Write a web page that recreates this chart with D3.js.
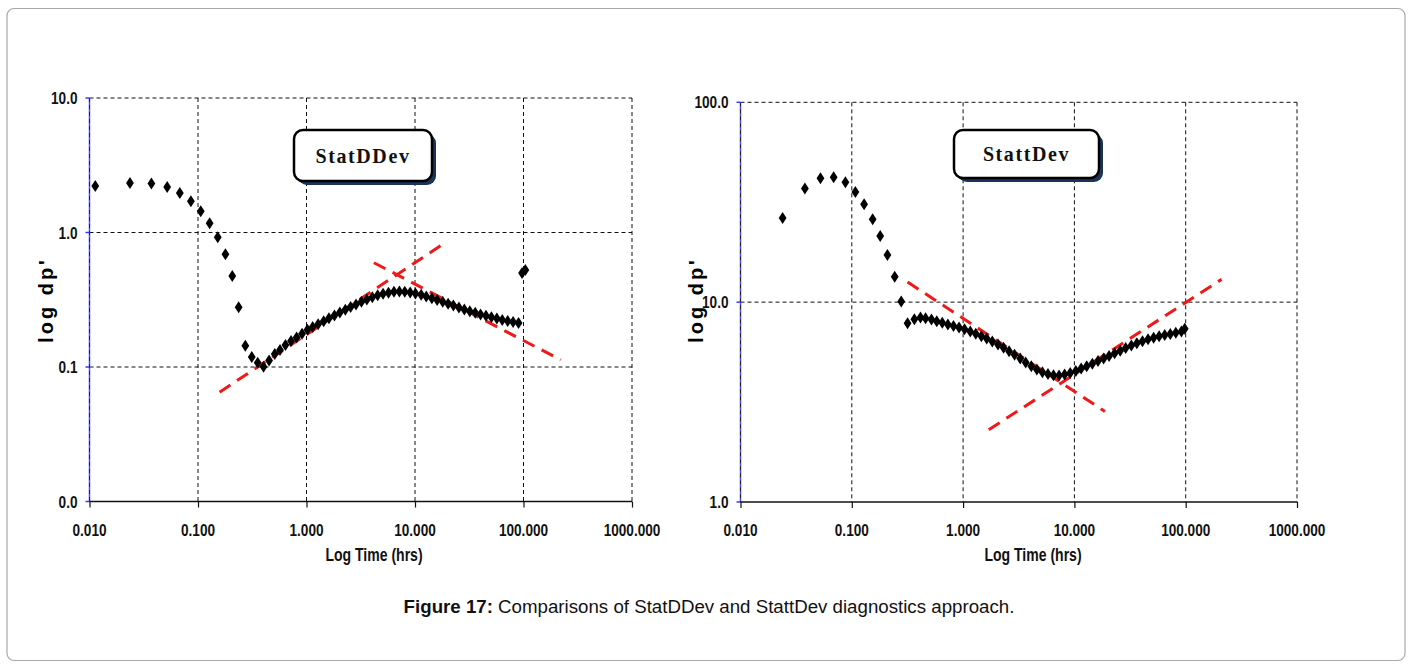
<!DOCTYPE html>
<html>
<head>
<meta charset="utf-8">
<script src="https://cdn.jsdelivr.net/npm/d3@7"></script>
<style>
  body { margin: 0; background: #fff; }
  .tick-label { font-family: "Liberation Sans", Arial, sans-serif; font-weight: bold; font-size: 17px; fill: #111; }
  .axis-title { font-family: "Liberation Sans", Arial, sans-serif; font-weight: bold; font-size: 18px; fill: #111; }
  .y-title { font-family: "Liberation Sans", Arial, sans-serif; font-weight: bold; font-size: 20px; letter-spacing: 3px; fill: #000; }
  .callout { font-family: "Liberation Serif", "Times New Roman", serif; font-weight: bold; font-size: 20px; letter-spacing: 1.6px; fill: #111; }
  .caption { font-family: "Liberation Sans", Arial, sans-serif; font-size: 18.7px; fill: #111; }
</style>
</head>
<body>
<div id="appContainer"></div>
<script>
// StatDDev (left panel)
const statdTime = [0.0113, 0.0236, 0.0372, 0.052, 0.068, 0.086, 0.106, 0.128, 0.152, 0.179, 0.207, 0.237, 0.273, 0.313, 0.355, 0.402, 0.452,
  0.51, 0.57, 0.64, 0.72, 0.81, 0.91, 1.02, 1.14, 1.28, 1.44, 1.61, 1.81, 2.03, 2.28, 2.55, 2.86, 3.21, 3.60, 4.04, 4.53,
  5.08, 5.70, 6.40, 7.18, 8.05, 9.03, 10.1, 11.4, 12.7, 14.3, 16.0, 18.0, 20.2, 22.6, 25.4, 28.5, 32.0, 35.9, 40.2, 45.1,
  50.6, 56.8, 63.7, 71.5, 80.2, 90.0, 97, 104];
const statdDp = [2.22, 2.33, 2.31, 2.18, 1.97, 1.71, 1.44, 1.17, 0.92, 0.69, 0.475, 0.278, 0.144, 0.1186, 0.1076, 0.1005, 0.112,
  0.125, 0.134, 0.146, 0.156, 0.166, 0.177, 0.189, 0.198, 0.208, 0.219, 0.230, 0.241, 0.254, 0.266, 0.279, 0.292, 0.305, 0.318, 0.330, 0.341,
  0.350, 0.357, 0.362, 0.364, 0.362, 0.358, 0.352, 0.344, 0.335, 0.325, 0.315, 0.305, 0.295, 0.286, 0.277, 0.268, 0.260, 0.253, 0.246, 0.240,
  0.234, 0.229, 0.224, 0.220, 0.216, 0.212, 0.50, 0.526];
const statdLines = [
  [[0.158, 0.065], [19.2, 0.845]],
  [[4.18, 0.596], [220, 0.113]]
];

// StattDev (right panel)
const stattTime = [0.0239, 0.0379, 0.0523, 0.0687, 0.0876, 0.1077, 0.129, 0.154, 0.180, 0.209, 0.243, 0.278, 0.317, 0.365, 0.414,
  0.46, 0.52, 0.58, 0.65, 0.73, 0.82, 0.92, 1.03, 1.16, 1.30, 1.46, 1.63, 1.83, 2.06, 2.31, 2.59, 2.90, 3.26, 3.65, 4.10,
  4.60, 5.16, 5.79, 6.49, 7.28, 8.17, 9.17, 10.3, 11.5, 12.9, 14.5, 16.3, 18.3, 20.5, 23.0, 25.8, 28.9, 32.5, 36.4, 40.9,
  45.9, 51.5, 57.7, 64.8, 72.7, 81.5, 91.5, 98.0];
const stattDp = [26.4, 37.0, 41.7, 42.2, 39.8, 35.6, 30.9, 26.0, 21.4, 17.2, 13.4, 10.07, 7.85, 8.22, 8.37,
  8.30, 8.18, 8.02, 7.88, 7.74, 7.60, 7.46, 7.32, 7.14, 6.95, 6.76, 6.57, 6.36, 6.14, 5.91, 5.68, 5.45, 5.22, 4.99, 4.78,
  4.60, 4.46, 4.37, 4.31, 4.30, 4.34, 4.42, 4.53, 4.65, 4.78, 4.92, 5.07, 5.22, 5.38, 5.55, 5.72, 5.90, 6.07, 6.23, 6.38,
  6.52, 6.64, 6.75, 6.84, 6.93, 7.02, 7.14, 7.35];
const stattLines = [
  [[0.317, 12.6], [18.8, 2.84]],
  [[1.70, 2.30], [210, 13.0]]
];

const xTicks = [0.01, 0.1, 1, 10, 100, 1000];
const xTickLabels = ["0.010", "0.100", "1.000", "10.000", "100.000", "1000.000"];
const statdYTicks = [0.01, 0.1, 1, 10];
const statdYLabels = ["0.0", "0.1", "1.0", "10.0"];
const stattYTicks = [1, 10, 100];
const stattYLabels = ["1.0", "10.0", "100.0"];

const w = 1413;
const h = 670;
const squeeze = 0.8; // the original uses a condensed face

const svg = d3.select("#appContainer")
  .append("svg")
  .attr("width", w)
  .attr("height", h);

// outer frame
svg.append("rect")
  .attr("x", 7).attr("y", 8.5)
  .attr("width", 1398).attr("height", 652)
  .attr("rx", 7)
  .attr("fill", "none")
  .attr("stroke", "#a8a8a8")
  .attr("stroke-width", 1.2);

function drawPanel(opt) {
  const xScale = d3.scaleLog().domain([0.01, 1000]).range([opt.left, opt.right]);
  const yScale = d3.scaleLog().domain(opt.yDomain).range([opt.bottom, opt.top]);
  const g = svg.append("g");

  // grid (top and right borders are dashed too)
  g.selectAll(".vgrid")
    .data(xTicks.slice(1))
    .enter()
    .append("line")
    .attr("x1", d => xScale(d)).attr("x2", d => xScale(d))
    .attr("y1", opt.top).attr("y2", opt.bottom)
    .attr("stroke", "#111").attr("stroke-width", 1)
    .attr("stroke-dasharray", "4,3");

  g.selectAll(".hgrid")
    .data(opt.yTicks.slice(1))
    .enter()
    .append("line")
    .attr("x1", opt.left).attr("x2", opt.right)
    .attr("y1", d => yScale(d)).attr("y2", d => yScale(d))
    .attr("stroke", "#111").attr("stroke-width", 1)
    .attr("stroke-dasharray", "4,3");

  // left axis, bluish
  g.append("line")
    .attr("x1", opt.left).attr("x2", opt.left)
    .attr("y1", opt.top).attr("y2", opt.bottom)
    .attr("stroke", "#4d4dff").attr("stroke-width", 1.5);
  g.append("line")
    .attr("x1", opt.left).attr("x2", opt.left)
    .attr("y1", opt.top).attr("y2", opt.bottom)
    .attr("stroke", "#222").attr("stroke-width", 1)
    .attr("stroke-dasharray", "4,3");

  g.selectAll(".ytick")
    .data(opt.yTicks)
    .enter()
    .append("line")
    .attr("x1", opt.left - 4).attr("x2", opt.left)
    .attr("y1", d => yScale(d)).attr("y2", d => yScale(d))
    .attr("stroke", "#3a3aff").attr("stroke-width", 1.5);

  g.selectAll(".ylabel")
    .data(opt.yTicks)
    .enter()
    .append("text")
    .attr("class", "tick-label")
    .attr("transform", d => "translate(" + (opt.left - 12) + "," + (yScale(d) + 6) + ") scale(" + squeeze + ",1)")
    .attr("text-anchor", "end")
    .text((d, i) => opt.yLabels[i]);

  // bottom axis
  const xAxis = d3.axisBottom(xScale)
    .tickValues(xTicks)
    .tickSize(6)
    .tickFormat("");

  const xg = g.append("g")
    .attr("transform", "translate(0," + opt.bottom + ")")
    .call(xAxis);
  xg.select(".domain").attr("stroke", "#111").attr("stroke-width", 1.5).attr("d", "M" + opt.left + ",0H" + opt.right);
  xg.selectAll(".tick line").attr("stroke", "#111").attr("stroke-width", 1.2);

  g.selectAll(".xlabel")
    .data(xTicks)
    .enter()
    .append("text")
    .attr("class", "tick-label")
    .attr("transform", d => "translate(" + xScale(d) + "," + (opt.bottom + 34) + ") scale(" + squeeze + ",1)")
    .attr("text-anchor", "middle")
    .text((d, i) => xTickLabels[i]);

  g.append("text")
    .attr("class", "axis-title")
    .attr("transform", "translate(" + opt.xTitleX + ",561) scale(0.78,1)")
    .attr("text-anchor", "middle")
    .text("Log Time (hrs)");

  g.append("text")
    .attr("class", "y-title")
    .attr("transform", "translate(" + opt.yTitleX + "," + 300 + ") rotate(-90)")
    .attr("text-anchor", "middle")
    .attr("dy", "0.35em")
    .text("log dp'");

  // straight-line fits
  g.selectAll(".fit")
    .data(opt.lines)
    .enter()
    .append("line")
    .attr("x1", d => xScale(d[0][0])).attr("y1", d => yScale(d[0][1]))
    .attr("x2", d => xScale(d[1][0])).attr("y2", d => yScale(d[1][1]))
    .attr("stroke", "#f01818")
    .attr("stroke-width", 3)
    .attr("stroke-dasharray", "13,8");

  // diamonds
  g.selectAll(".pt")
    .data(opt.time)
    .enter()
    .append("path")
    .attr("d", "M0,-6L3.9,0L0,6L-3.9,0Z")
    .attr("transform", (d, i) => "translate(" + xScale(d) + "," + yScale(opt.dp[i]) + ")")
    .attr("fill", "#000");

  // callout box
  const b = opt.box;
  g.append("rect")
    .attr("x", b.x + 4).attr("y", b.y + 4)
    .attr("width", b.w).attr("height", b.h)
    .attr("rx", 9)
    .attr("fill", "#1c3358");
  g.append("rect")
    .attr("x", b.x).attr("y", b.y)
    .attr("width", b.w).attr("height", b.h)
    .attr("rx", 9)
    .attr("fill", "#fff")
    .attr("stroke", "#000")
    .attr("stroke-width", 2.5);
  g.append("text")
    .attr("class", "callout")
    .attr("x", b.x + b.w / 2)
    .attr("y", b.y + b.h / 2 + 7)
    .attr("text-anchor", "middle")
    .text(b.label);
}

drawPanel({
  left: 89.5, right: 632, top: 98, bottom: 501.5,
  yDomain: [0.01, 10], yTicks: statdYTicks, yLabels: statdYLabels,
  time: statdTime, dp: statdDp, lines: statdLines,
  xTitleX: 374, yTitleX: 46,
  box: { x: 294, y: 130, w: 138, h: 51, label: "StatDDev" }
});

drawPanel({
  left: 740.5, right: 1297, top: 102.3, bottom: 502,
  yDomain: [1, 100], yTicks: stattYTicks, yLabels: stattYLabels,
  time: stattTime, dp: stattDp, lines: stattLines,
  xTitleX: 1033, yTitleX: 696,
  box: { x: 954, y: 130, w: 145, h: 48, label: "StattDev" }
});

const caption = svg.append("text")
  .attr("class", "caption")
  .attr("x", 709)
  .attr("y", 613)
  .attr("text-anchor", "middle");
caption.append("tspan").attr("font-weight", "bold").text("Figure 17:");
caption.append("tspan").text(" Comparisons of StatDDev and StattDev diagnostics approach.");
</script>
</body>
</html>
